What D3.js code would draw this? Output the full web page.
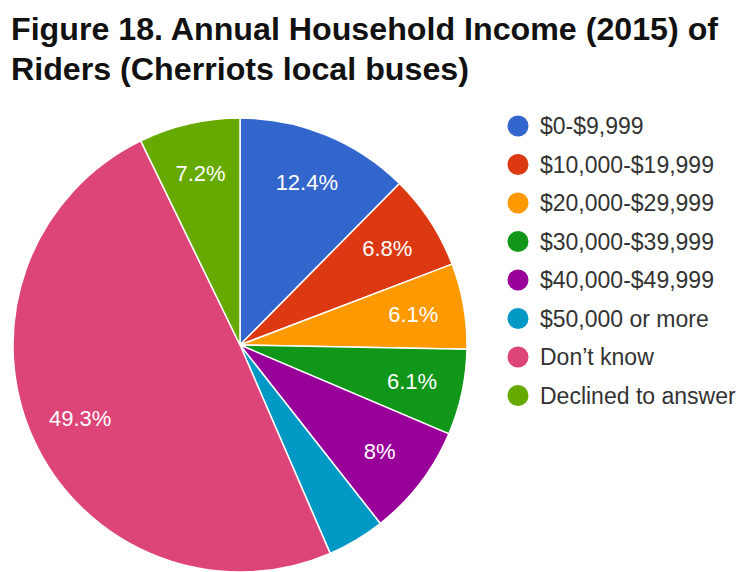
<!DOCTYPE html>
<html>
<head>
<meta charset="utf-8">
<script src="https://cdn.jsdelivr.net/npm/d3@7"></script>
<style>
  html, body { margin: 0; padding: 0; background: #ffffff; }
  svg { display: block; font-family: "Liberation Sans", Arial, sans-serif; }
</style>
</head>
<body>
<svg id="chart" width="747" height="572"></svg>
<script>
// Household income groups of Cherriots local bus riders (2015), percent of riders
const categories = [
  "$0-$9,999",
  "$10,000-$19,999",
  "$20,000-$29,999",
  "$30,000-$39,999",
  "$40,000-$49,999",
  "$50,000 or more",
  "Don\u2019t know",
  "Declined to answer"
];
const shares = [12.4, 6.8, 6.1, 6.1, 8, 4.1, 49.3, 7.2];
const labels = ["12.4%", "6.8%", "6.1%", "6.1%", "8%", "", "49.3%", "7.2%"];
const palette = ["#3366cc", "#dc3912", "#ff9900", "#109618", "#990099", "#0099c6", "#dd4477", "#66aa00"];
const titleLines = ["Figure 18. Annual Household Income (2015) of", "Riders (Cherriots local buses)"];

const svg = d3.select("#chart");

// Title
svg.append("g")
  .selectAll("text")
  .data(titleLines)
  .join("text")
  .attr("x", 11)
  .attr("y", (d, i) => 40 + i * 40)
  .attr("font-size", 32.2)
  .attr("font-weight", "bold")
  .attr("fill", "#111111")
  .text(d => d);

// Pie
const cx = 240, cy = 345, radius = 227;
const data = categories.map((c, i) => ({ category: c, value: shares[i], label: labels[i] }));
const color = d3.scaleOrdinal().domain(categories).range(palette);
const pie = d3.pie().value(d => d.value).sort(null);
const arcs = pie(data);
const arc = d3.arc().innerRadius(0).outerRadius(radius);
const labelArc = d3.arc().innerRadius(radius * 0.775).outerRadius(radius * 0.775);

const g = svg.append("g").attr("transform", `translate(${cx},${cy})`);

g.selectAll("path")
  .data(arcs)
  .join("path")
  .attr("d", arc)
  .attr("fill", d => color(d.data.category))
  .attr("stroke", "#ffffff")
  .attr("stroke-width", 1.5);

g.selectAll("text")
  .data(arcs.filter(d => d.data.label))
  .join("text")
  .attr("transform", d => `translate(${labelArc.centroid(d)})`)
  .attr("text-anchor", "middle")
  .attr("dominant-baseline", "central")
  .attr("font-size", 22)
  .attr("fill", "#ffffff")
  .text(d => d.data.label);

// Legend
const legend = svg.append("g")
  .selectAll("g")
  .data(categories)
  .join("g")
  .attr("transform", (d, i) => `translate(518,${126 + i * 38.5})`);

legend.append("circle")
  .attr("r", 10.5)
  .attr("fill", d => color(d));

legend.append("text")
  .attr("x", 22)
  .attr("dominant-baseline", "central")
  .attr("font-size", 23)
  .attr("fill", "#333333")
  .text(d => d);
</script>
</body>
</html>
